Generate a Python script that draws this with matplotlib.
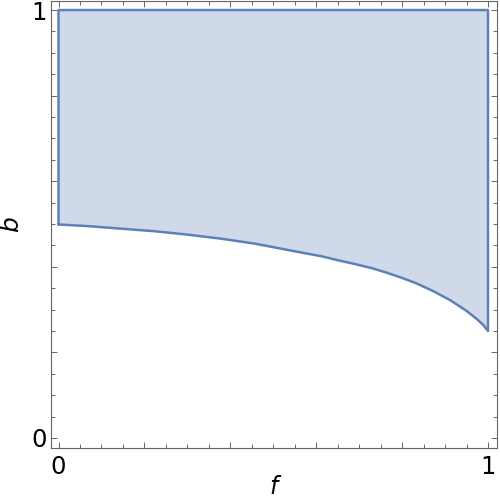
import matplotlib
matplotlib.use("Agg")
import matplotlib.pyplot as plt
import numpy as np
from matplotlib.ticker import MultipleLocator, FixedLocator, FixedFormatter

# Lower boundary of the region
f_vals = [0.0, 0.07, 0.147, 0.225, 0.302, 0.38, 0.458, 0.52, 0.57, 0.613, 0.65, 0.69, 0.729,
          0.765, 0.80, 0.834, 0.873, 0.912, 0.95, 0.974, 0.989, 1.0]
b_vals = [0.499, 0.495, 0.489, 0.483, 0.475, 0.4655, 0.454, 0.442, 0.4325, 0.4245, 0.4155, 0.4065, 0.397,
          0.386, 0.374, 0.361, 0.343, 0.322, 0.297, 0.278, 0.264, 0.25]
b_top = 1.0
major_ticks = [0, 0.2, 0.4, 0.6, 0.8, 1.0]
tick_labels = ["0", "", "", "", "", "1"]

edge = "#5E81B5"
fill = "#CFD9E9"

fig = plt.figure(figsize=(5.0, 4.98), dpi=100)
ax = fig.add_axes([51/500, 1-448/498, 446/500, 447/498])

fx = np.array(f_vals)
fb = np.array(b_vals)
ax.fill_between(fx, fb, b_top, color=fill, lw=0)
# boundary: curve, right edge, top, left edge
px = np.concatenate([fx, [1.0, 0.0, 0.0]])
py = np.concatenate([fb, [b_top, b_top, fb[0]]])
ax.plot(px, py, color=edge, lw=1.8, solid_joinstyle="round", solid_capstyle="round")

ax.set_xlim(-0.0175, 1.021)
ax.set_ylim(-0.0234, 1.0211)

for axis in (ax.xaxis, ax.yaxis):
    axis.set_major_locator(FixedLocator(major_ticks))
    axis.set_major_formatter(FixedFormatter(tick_labels))
    axis.set_minor_locator(MultipleLocator(0.05))

for s in ax.spines.values():
    s.set_color("#666666")
    s.set_linewidth(0.8)

ax.tick_params(which="both", direction="in", top=True, right=True, color="#666666", width=0.7)
ax.tick_params(which="major", length=4.5, labelsize=17.5, pad=5)
ax.tick_params(which="minor", length=2.8)
ax.tick_params(axis="y", which="major", pad=3)

ax.set_xlabel("f", fontsize=17, style="italic", labelpad=-3)
ax.set_ylabel("b", fontsize=18, style="italic", labelpad=6)

fig.savefig("out.png", dpi=100)
